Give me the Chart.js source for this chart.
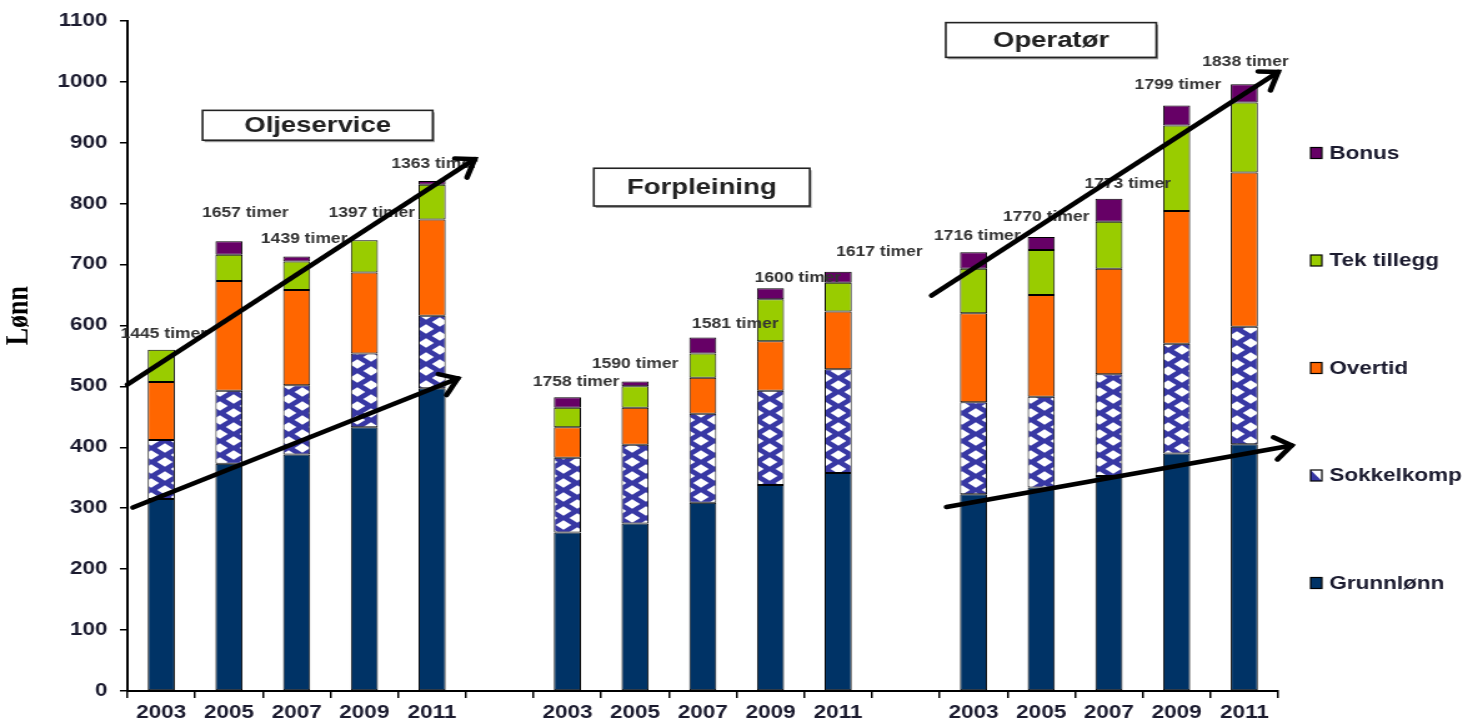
<!DOCTYPE html>
<html lang="no">
<head>
<meta charset="utf-8">
<title>Lønn</title>
<script src="https://cdn.jsdelivr.net/npm/chart.js@4.4.1/dist/chart.umd.min.js"></script>
<style>
  html, body { margin: 0; padding: 0; background: #fff; overflow: hidden; }
  /* the original picture is stretched sideways: draw narrow, then widen */
  #wrap { width: 1175px; height: 726px; transform: scale(1.2494, 1); transform-origin: 0 0; }
</style>
</head>
<body>
<div id="wrap"><canvas id="chart"></canvas></div>
<script>
/* ---------- DATA ---------- */
const categories = ['2003','2005','2007','2009','2011','',
                    '2003','2005','2007','2009','2011','',
                    '2003','2005','2007','2009','2011'];

const grunnlonn  = [315,373,388,433,497,null, 260,275,309,338,358,null, 323,334,353,390,405];
const sokkelkomp = [ 97,120,114,121,119,null, 123,129,146,155,170,null, 151,149,167,180,193];
const overtid    = [ 95,180,156,133,158,null,  50, 61, 59, 81, 95,null, 146,167,173,218,253];
const tekTillegg = [ 53, 43, 47, 53, 57,null,  32, 35, 40, 69, 47,null,  73, 74, 77,140,115];
const bonus      = [  0, 22,  8,  0,  6,null,  17,  8, 26, 18, 18,null,  27, 21, 38, 33, 30];

const timer = ['1445 timer','1657 timer','1439 timer','1397 timer','1363 timer','',
               '1758 timer','1590 timer','1581 timer','1600 timer','1617 timer','',
               '1716 timer','1770 timer','1773 timer','1799 timer','1838 timer'];

const yTicks = [0,100,200,300,400,500,600,700,800,900,1000,1100];

/* ---------- LOOK ---------- */
const FONT = '"Liberation Sans", Arial, sans-serif';
const tickColor = '#1b1b2f';
const SX = 1.2494; // sideways stretch of the wrapper

// where each "timer" label sits relative to its bar top (px)
const timerShift = [[2,16],[13,28],[6,17],[6,27],[2,17],null,
                    [7,15],[0,17],[26,13],[22,10],[33,20],null,
                    [3,16],[4,20],[15,15],[1,20],[1,22]];

// group boxes in data units: [left index, right index, top value, bottom value]
const groupBoxes = [
  { text: 'Oljeservice', box: [0.61, 4.01, 953, 904] },
  { text: 'Forpleining', box: [6.39, 9.58, 858, 796] },
  { text: 'Operatør',    box: [11.59, 14.70, 1097, 1040] }
];

// trend arrows in data units: [from index, from value, to index, to value]
const arrows = [
  [-0.50, 503, 4.63, 873],
  [-0.42, 301, 4.38, 513],
  [11.38, 649, 16.50, 1016],
  [11.60, 302, 16.70, 403]
];

const patternBlue = '#3838a4';

// blue ground with white diamonds, like the office "diamond" fill
function diamondPattern() {
  const w = 22, h = 14;
  const c = document.createElement('canvas');
  c.width = w; c.height = h;
  const g = c.getContext('2d');
  g.fillStyle = patternBlue;
  g.fillRect(0, 0, w, h);
  g.fillStyle = '#fff';
  const d = (cx, cy) => {
    g.beginPath();
    g.moveTo(cx, cy - 4.8); g.lineTo(cx + 6.3, cy);
    g.lineTo(cx, cy + 4.8); g.lineTo(cx - 6.3, cy);
    g.closePath(); g.fill();
  };
  d(w / 2, h / 2); d(0, 0); d(w, 0); d(0, h); d(w, h);
  return g.createPattern(c, 'repeat');
}

/* ---------- EXTRA DRAWING ---------- */
const extras = {
  id: 'extras',
  afterDatasetsDraw(chart) {
    const { ctx, scales: { x, y }, chartArea } = chart;
    const topMeta = chart.getDatasetMeta(chart.data.datasets.length - 1);
    ctx.save();

    // hours over each bar
    ctx.font = 'bold 14px ' + FONT;
    ctx.fillStyle = '#333';
    ctx.textAlign = 'center';
    ctx.textBaseline = 'middle';
    timer.forEach((t, i) => {
      if (!t) return;
      const bar = topMeta.data[i];
      const [dx, dy] = timerShift[i];
      ctx.fillText(t, bar.x + dx, bar.y - dy);
    });

    // group name boxes
    groupBoxes.forEach(g => {
      const l = x.getPixelForValue(g.box[0]), r = x.getPixelForValue(g.box[1]);
      const t = y.getPixelForValue(g.box[2]), b = y.getPixelForValue(g.box[3]);
      ctx.fillStyle = '#999';
      ctx.fillRect(l + 1.5, t + 2, r - l, b - t);
      ctx.fillStyle = '#fff';
      ctx.fillRect(l, t, r - l, b - t);
      ctx.strokeStyle = '#222';
      ctx.lineWidth = 1.6;
      ctx.strokeRect(l, t, r - l, b - t);
      ctx.fillStyle = '#222';
      ctx.font = 'bold 22px ' + FONT;
      ctx.fillText(g.text, (l + r) / 2, (t + b) / 2 + 1);
    });

    // trend arrows
    ctx.strokeStyle = '#000';
    ctx.lineWidth = 4.5;
    ctx.lineCap = 'round';
    ctx.lineJoin = 'miter';
    arrows.forEach(a => {
      const x1 = x.getPixelForValue(a[0]), y1 = y.getPixelForValue(a[1]);
      const x2 = x.getPixelForValue(a[2]), y2 = y.getPixelForValue(a[3]);
      ctx.beginPath();
      ctx.moveTo(x1, y1); ctx.lineTo(x2, y2);
      ctx.stroke();
      // head worked out in the widened space so it keeps its shape
      const ang = Math.atan2(y2 - y1, (x2 - x1) * SX);
      const len = 20, spread = 0.6;
      ctx.beginPath();
      ctx.moveTo(x2 + Math.cos(ang + Math.PI - spread) * len / SX, y2 + Math.sin(ang + Math.PI - spread) * len);
      ctx.lineTo(x2, y2);
      ctx.lineTo(x2 + Math.cos(ang + Math.PI + spread) * len / SX, y2 + Math.sin(ang + Math.PI + spread) * len);
      ctx.stroke();
    });

    // y axis title
    ctx.save();
    ctx.translate(15, y.getPixelForValue(616));
    ctx.rotate(-Math.PI / 2);
    ctx.fillStyle = '#000';
    ctx.font = 'bold 26px "Liberation Serif", "Times New Roman", serif';
    ctx.fillText('Lønn', 0, 0);
    ctx.restore();

    // legend, top item first
    const sets = chart.data.datasets.slice().reverse();
    ctx.font = 'bold 18px ' + FONT;
    ctx.textAlign = 'left';
    const lx = chartArea.right + 26;
    sets.forEach((ds, k) => {
      const cy = 153 + k * 107.5;
      if (ds.backgroundColor instanceof CanvasPattern) {
        // swatch of the pattern: white with a blue corner
        ctx.fillStyle = '#fff';
        ctx.fillRect(lx, cy - 5.5, 9, 11);
        ctx.fillStyle = patternBlue;
        ctx.beginPath();
        ctx.moveTo(lx, cy - 5.5); ctx.lineTo(lx + 9, cy + 5.5); ctx.lineTo(lx, cy + 5.5);
        ctx.closePath(); ctx.fill();
      } else {
        ctx.fillStyle = ds.backgroundColor;
        ctx.fillRect(lx, cy - 5.5, 9, 11);
      }
      ctx.strokeStyle = '#000';
      ctx.lineWidth = 1.2;
      ctx.strokeRect(lx, cy - 5.5, 9, 11);
      ctx.fillStyle = tickColor;
      ctx.fillText(ds.label, lx + 15, cy + 1);
    });

    ctx.restore();
  }
};

/* ---------- CHART ---------- */
const barStyle = { borderColor: '#000', borderWidth: 1, borderSkipped: false,
                   barPercentage: 0.4, categoryPercentage: 1 };

new Chart(document.getElementById('chart').getContext('2d'), {
  type: 'bar',
  data: {
    labels: categories,
    datasets: [
      { label: 'Grunnlønn',   data: grunnlonn,  backgroundColor: '#003366', ...barStyle },
      { label: 'Sokkelkomp',  data: sokkelkomp, backgroundColor: diamondPattern(), ...barStyle },
      { label: 'Overtid',     data: overtid,    backgroundColor: '#ff6600', ...barStyle },
      { label: 'Tek tillegg', data: tekTillegg, backgroundColor: '#99cc00', ...barStyle },
      { label: 'Bonus',       data: bonus,      backgroundColor: '#660066', ...barStyle }
    ]
  },
  options: {
    responsive: true,
    maintainAspectRatio: false,
    animation: false,
    layout: { padding: { top: 18, right: 152, bottom: 0, left: 0 } },
    plugins: { legend: { display: false }, tooltip: { enabled: false } },
    scales: {
      x: {
        stacked: true,
        grid: { offset: true, drawOnChartArea: false, color: '#000', tickLength: 7, lineWidth: 1.5 },
        border: { color: '#000', width: 2 },
        ticks: { color: tickColor, font: { family: FONT, size: 18, weight: 'bold' },
                 padding: 4, autoSkip: false, maxRotation: 0 },
        afterFit(s) { s.height = 35; }
      },
      y: {
        stacked: true,
        min: yTicks[0],
        max: yTicks[yTicks.length - 1],
        grid: { drawOnChartArea: false, color: '#000', tickLength: 6, lineWidth: 1.5 },
        border: { color: '#000', width: 2 },
        ticks: { stepSize: 100, color: tickColor, font: { family: FONT, size: 18, weight: 'bold' },
                 padding: 10, callback: v => String(v) },
        afterFit(s) { s.width = 102; }
      }
    }
  },
  plugins: [extras]
});
</script>
</body>
</html>
